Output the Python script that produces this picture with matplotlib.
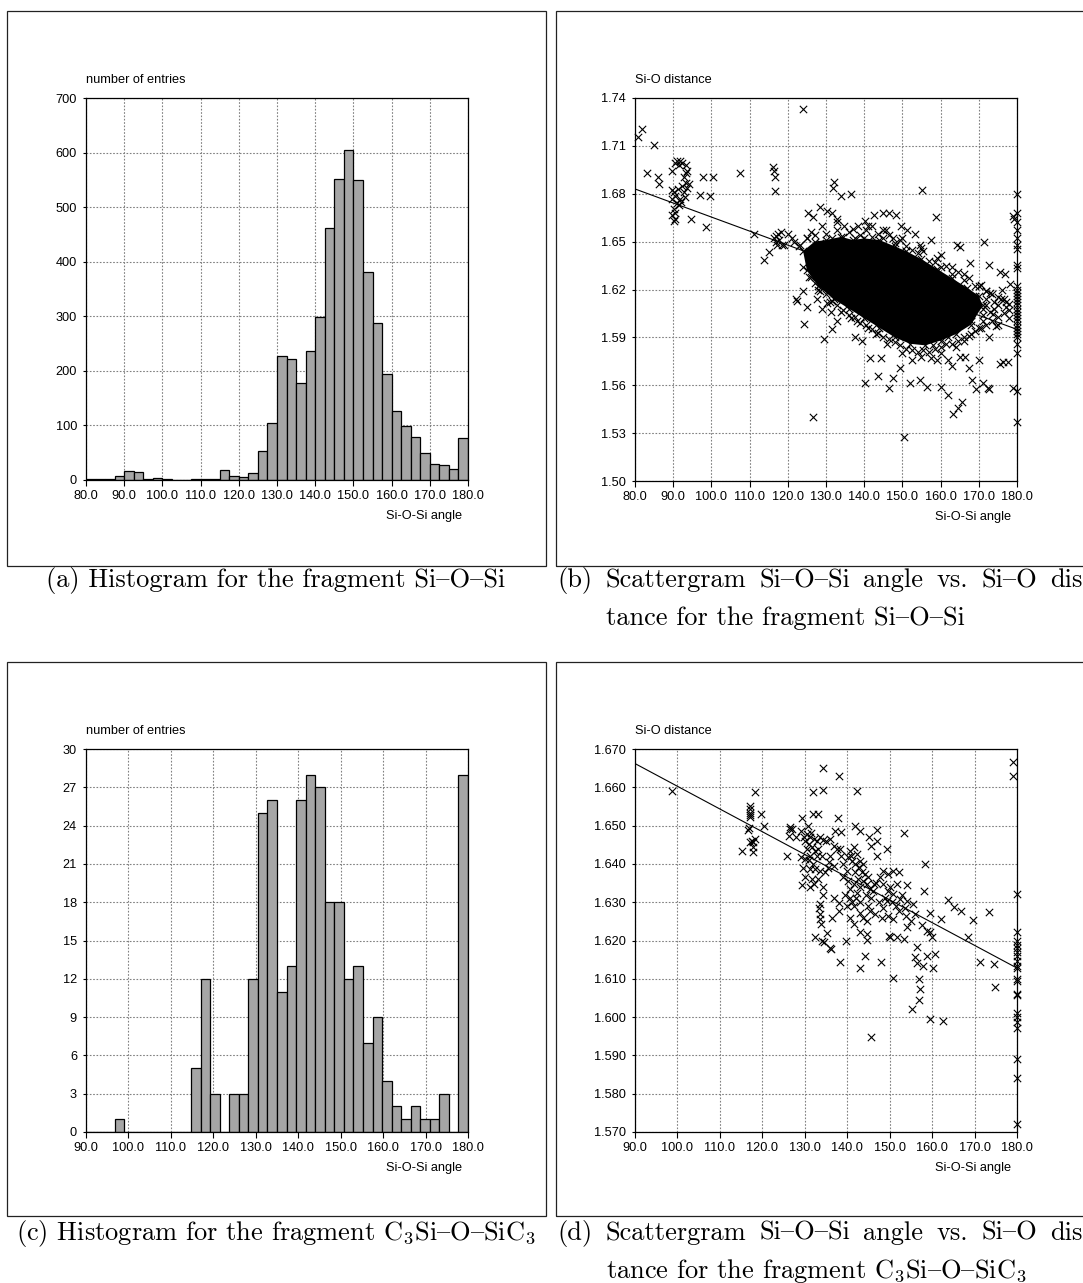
import numpy as np
import matplotlib.pyplot as plt
from matplotlib.patches import Rectangle

plt.rcParams['font.family'] = ['Liberation Sans', 'DejaVu Sans']
plt.rcParams['mathtext.fontset'] = 'cm'

W, H = 1083, 1283

# (a) histogram Si-O-Si, 40 bins of 2.5 deg starting at 80
hist_a_start = 80.0
hist_a_width = 2.5
hist_a_counts = [2, 2, 2, 7, 17, 14, 1, 3, 1, 0,
                 0, 1, 1, 1, 18, 8, 5, 12, 53, 105,
                 227, 222, 177, 236, 299, 462, 552, 605, 550, 381,
                 287, 195, 126, 99, 78, 50, 29, 27, 20, 77]

# (c) histogram C3Si-O-SiC3, 40 bins of 2.25 deg starting at 90
hist_c_start = 90.0
hist_c_width = 2.25
hist_c_counts = [0, 0, 0, 1, 0, 0, 0, 0, 0, 0,
                 0, 5, 12, 3, 0, 3, 3, 12, 25, 26,
                 11, 13, 26, 28, 27, 18, 18, 12, 13, 7,
                 9, 4, 2, 1, 2, 1, 1, 3, 0, 28]

# (b) scattergram Si-O-Si: (angle, distance) of the single crosses
scat_b = [
    (80.9, 1.7155), (81.8, 1.7208), (84.9, 1.7105), (83.2, 1.6927), (86.1, 1.6908), (86.3, 1.6860), (89.7, 1.6944),
    (91.0, 1.7004), (91.9, 1.7004), (92.4, 1.6992), (93.3, 1.6980), (93.7, 1.6944), (93.3, 1.6932), (92.8, 1.6908),
    (91.5, 1.6980), (90.6, 1.6990), (89.7, 1.6824), (90.1, 1.6812), (90.6, 1.6788), (89.7, 1.6764), (91.0, 1.6740),
    (90.1, 1.6704), (89.7, 1.6668), (90.6, 1.6644), (90.1, 1.6632), (91.5, 1.6728), (91.9, 1.6764), (92.8, 1.6812),
    (93.7, 1.6836), (94.2, 1.6860), (93.3, 1.6865), (92.4, 1.6850), (91.2, 1.6830), (92.0, 1.6750), (90.4, 1.6680),
    (93.0, 1.6780), (94.6, 1.6644), (96.9, 1.6795), (97.8, 1.6908), (99.6, 1.6788), (100.3, 1.6908), (98.5, 1.6591),
    (107.6, 1.6927), (111.1, 1.6548), (116.0, 1.6968), (116.4, 1.6944), (116.6, 1.6908), (116.6, 1.6819),
    (113.9, 1.6385), (115.1, 1.6433), (116.8, 1.6536), (117.7, 1.6512), (117.2, 1.6476), (118.1, 1.6560),
    (118.6, 1.6476), (117.0, 1.6500), (116.5, 1.6520), (117.5, 1.6545),
    (124.0, 1.7328), (122.4, 1.6128), (124.9, 1.6092), (124.2, 1.5984), (126.5, 1.5401), (129.4, 1.5888),
    (131.7, 1.5953), (131.2, 1.6056), (132.1, 1.6872), (131.9, 1.6836), (133.9, 1.6783), (136.6, 1.6800),
    (155.2, 1.6824), (158.8, 1.6656), (171.4, 1.6500), (143.7, 1.5660), (146.6, 1.5583), (150.4, 1.5276),
    (163.3, 1.5420), (164.6, 1.5456), (165.5, 1.5492), (168.3, 1.5636), (169.2, 1.5576), (167.4, 1.5708),
    (172.8, 1.5576), (172.3, 1.5583), (175.5, 1.5732), (176.4, 1.5744), (177.7, 1.5744), (178.9, 1.5583),
    (146.6, 1.6680), (151.1, 1.6572), (157.4, 1.6512), (160.1, 1.6416), (164.2, 1.6476), (165.1, 1.6464),
    (167.8, 1.6368), (172.8, 1.6356), (175.5, 1.6308), (176.8, 1.6296), (178.2, 1.6236), (140.3, 1.5612),
    (147.5, 1.5648), (152.0, 1.5612), (154.7, 1.5636), (156.5, 1.5588), (160.1, 1.5588), (161.9, 1.5540),
    (171.0, 1.5612), (136.6, 1.6020), (137.5, 1.5900), (139.3, 1.5876), (141.6, 1.5768), (144.3, 1.5768),
    (149.3, 1.5708), (152.4, 1.5756), (157.4, 1.5768), (161.9, 1.5756), (166.4, 1.5780), (170.1, 1.5756),
    (172.8, 1.5900), (174.6, 1.5972), (173.7, 1.6044), (175.9, 1.6140), (171.9, 1.6188), (122.2, 1.6140),
    (124.0, 1.6188), (127.6, 1.6140), (130.3, 1.6116), (123.1, 1.6476), (121.7, 1.6500), (124.9, 1.6524),
    (125.3, 1.6680), (126.7, 1.6656), (128.5, 1.6716), (130.3, 1.6692), (131.7, 1.6680), (132.9, 1.6644),
    (134.8, 1.6596), (138.4, 1.6596), (140.3, 1.6632), (142.5, 1.6668), (144.8, 1.6680), (148.4, 1.6668),
    (149.7, 1.6596), (153.4, 1.6548), (154.7, 1.6476), (147.5, 1.6524), (142.1, 1.6596), (145.7, 1.6572),
    (158.0, 1.5850), (160.0, 1.5800), (162.0, 1.5900), (164.0, 1.5840), (166.0, 1.5880), (168.0, 1.5920),
    (170.0, 1.5960), (165.0, 1.5780), (163.0, 1.5720), (159.0, 1.5760), (155.0, 1.5780), (150.0, 1.5800),
    (146.0, 1.5860), (143.0, 1.5920), (168.0, 1.6040), (171.0, 1.6000), (174.0, 1.6080), (177.0, 1.6120),
    (169.0, 1.6120), (165.0, 1.6160), (162.0, 1.6200), (166.0, 1.6300), (170.0, 1.6220), (173.0, 1.6180),
    (176.0, 1.6200), (178.0, 1.6020), (175.0, 1.5980), (172.0, 1.6100),
    (126.0, 1.6560), (129.0, 1.6600), (133.0, 1.6620), (137.0, 1.6580), (141.0, 1.6600), (145.0, 1.6570),
    (150.0, 1.6520), (155.0, 1.6460), (159.0, 1.6400), (163.0, 1.6340), (121.0, 1.6520), (119.0, 1.6480),
    (120.0, 1.6550), (126.0, 1.6280), (128.0, 1.6200), (131.0, 1.6120), (134.0, 1.6060), (138.0, 1.6000),
    (141.0, 1.5960), (129.0, 1.6080), (133.0, 1.6000), (179.0, 1.6660), (179.3, 1.6640),
    # crosses crowding the upper rim of the dense cloud
    (123.0, 1.647), (125.0, 1.652), (127.0, 1.654), (128.5, 1.649), (130.0, 1.655), (131.5, 1.652),
    (133.0, 1.657), (134.5, 1.653), (136.0, 1.656), (137.5, 1.652), (139.0, 1.654), (140.5, 1.657),
    (142.0, 1.653), (143.5, 1.655), (145.0, 1.652), (146.5, 1.654), (148.0, 1.649), (149.5, 1.651),
    (151.0, 1.647), (152.5, 1.645), (154.0, 1.643), (155.5, 1.644), (157.0, 1.638), (158.5, 1.637),
    (160.0, 1.634), (161.5, 1.635), (163.0, 1.630), (164.5, 1.631), (166.0, 1.626), (167.5, 1.627),
    (169.0, 1.622), (170.5, 1.623), (172.0, 1.619), (173.5, 1.617), (175.0, 1.615), (176.5, 1.614),
    (178.0, 1.611),
    # crosses crowding the lower rim of the dense cloud
    (124.0, 1.634), (125.5, 1.628), (127.0, 1.624), (128.5, 1.619), (130.0, 1.617), (131.5, 1.613),
    (133.0, 1.610), (134.5, 1.607), (136.0, 1.604), (137.5, 1.603), (139.0, 1.599), (140.5, 1.598),
    (142.0, 1.595), (143.5, 1.593), (145.0, 1.590), (146.5, 1.589), (148.0, 1.587), (149.5, 1.585),
    (151.0, 1.583), (152.5, 1.582), (154.0, 1.581), (155.5, 1.582), (157.0, 1.581), (158.5, 1.583),
    (160.0, 1.584), (161.5, 1.586), (163.0, 1.586), (164.5, 1.588), (166.0, 1.590), (167.5, 1.591),
    (169.0, 1.594), (170.5, 1.596), (172.0, 1.598), (173.5, 1.600), (175.0, 1.603), (176.5, 1.605),
    (178.0, 1.607),
    # tail of the cloud towards 180 deg
    (171.0, 1.608), (174.0, 1.612), (177.0, 1.609), (169.0, 1.616), (172.0, 1.614), (175.0, 1.610),
    (168.0, 1.600), (171.0, 1.604), (166.0, 1.604), (173.0, 1.606),
]
# crosses sitting on the 180 deg line in (b)
edge_b_dist = [1.680, 1.668, 1.662, 1.6572, 1.6524, 1.6476, 1.6452, 1.6356, 1.6332, 1.5564, 1.5372,
               1.622, 1.620, 1.618, 1.616, 1.614, 1.612, 1.610, 1.608, 1.606, 1.604, 1.602,
               1.600, 1.598, 1.596, 1.594, 1.592, 1.590, 1.586, 1.580]
# outline of the solid black core of overlapping crosses in (b)
core_b_angle = [124, 127, 130, 134, 137, 140, 144, 148, 151, 155, 159, 163, 167, 170,
                171, 168, 164, 160, 156, 152, 148, 144, 140, 136, 132, 128, 125]
core_b_dist = [1.644, 1.650, 1.651, 1.653, 1.651, 1.652, 1.651, 1.647, 1.644, 1.639, 1.633, 1.627, 1.621, 1.616,
               1.610, 1.598, 1.592, 1.588, 1.585, 1.586, 1.590, 1.596, 1.602, 1.608, 1.614, 1.622, 1.632]
fit_b_angle = [80.0, 180.0]
fit_b_dist = [1.683, 1.595]

# (d) scattergram C3Si-O-SiC3
scat_d = [
    (98.6, 1.6591), (118.2, 1.6589), (117.1, 1.6552), (117.1, 1.6543), (117.1, 1.6534), (117.2, 1.6528),
    (117.2, 1.6523), (116.8, 1.6495), (116.6, 1.6488), (117.5, 1.6460), (117.9, 1.6456), (117.0, 1.6456),
    (118.3, 1.6464), (117.8, 1.6443), (115.1, 1.6434), (117.9, 1.6430), (119.6, 1.6530), (120.4, 1.6500),
    (126.5, 1.6497), (126.2, 1.6473), (125.8, 1.6421), (126.6, 1.6491),
    (129.4, 1.6520), (129.0, 1.6485), (129.8, 1.6469), (130.5, 1.6478), (131.3, 1.6469), (132.1, 1.6465),
    (130.1, 1.6460), (130.9, 1.6452), (131.7, 1.6443), (132.5, 1.6434), (129.1, 1.6417), (130.1, 1.6413),
    (131.3, 1.6421), (132.9, 1.6421), (132.0, 1.6530), (133.0, 1.6530), (131.9, 1.6589), (134.3, 1.6593),
    (134.3, 1.6650), (138.0, 1.6630), (142.3, 1.6591), (137.9, 1.6520), (134.4, 1.6462), (136.0, 1.6465),
    (137.2, 1.6487), (138.5, 1.6482), (136.9, 1.6447), (138.2, 1.6439), (135.6, 1.6404), (136.8, 1.6395),
    (131.3, 1.6386), (132.5, 1.6386), (133.7, 1.6382), (130.1, 1.6365), (129.4, 1.6345), (131.3, 1.6339),
    (132.1, 1.6347), (134.4, 1.6339), (134.3, 1.6319), (133.7, 1.6295), (133.3, 1.6286), (133.7, 1.6269),
    (133.5, 1.6256), (133.8, 1.6244), (132.3, 1.6210), (134.6, 1.6195), (136.2, 1.6177), (135.9, 1.6180),
    (136.8, 1.6312), (138.0, 1.6299), (138.0, 1.6276), (139.8, 1.6199), (138.4, 1.6145),
    (140.7, 1.6434), (141.5, 1.6443), (142.3, 1.6426), (140.3, 1.6417), (141.1, 1.6408), (141.9, 1.6399),
    (143.1, 1.6408), (143.8, 1.6399), (142.7, 1.6391), (139.9, 1.6382), (139.1, 1.6365), (140.3, 1.6356),
    (141.5, 1.6347), (140.7, 1.6334), (142.3, 1.6325), (143.1, 1.6339), (143.8, 1.6356), (144.6, 1.6347),
    (145.4, 1.6334), (145.0, 1.6365), (146.2, 1.6347), (144.2, 1.6373), (141.9, 1.6500), (143.1, 1.6487),
    (145.2, 1.6469), (147.1, 1.6488), (147.0, 1.6460), (145.6, 1.6447), (149.3, 1.6439), (147.0, 1.6421),
    (153.4, 1.6480), (140.7, 1.6312), (141.5, 1.6291), (143.1, 1.6273), (143.8, 1.6260), (145.4, 1.6276),
    (144.6, 1.6251), (140.7, 1.6260), (141.5, 1.6244), (143.1, 1.6223), (144.6, 1.6216), (144.6, 1.6201),
    (144.2, 1.6160), (143.1, 1.6129), (147.9, 1.6145), (145.6, 1.5947),
    (148.5, 1.6382), (147.7, 1.6365), (149.7, 1.6373), (150.9, 1.6382), (152.1, 1.6378), (148.5, 1.6347),
    (150.1, 1.6339), (151.7, 1.6347), (154.0, 1.6345), (150.9, 1.6321), (149.3, 1.6304), (152.4, 1.6308),
    (154.0, 1.6304), (155.6, 1.6295), (153.6, 1.6286), (148.5, 1.6286), (148.1, 1.6260), (149.7, 1.6264),
    (150.9, 1.6256), (152.1, 1.6277), (153.9, 1.6264), (154.0, 1.6234), (150.1, 1.6208), (149.9, 1.6212),
    (151.7, 1.6208), (153.4, 1.6203), (150.9, 1.6101), (158.3, 1.6399), (158.2, 1.6330), (159.6, 1.6271),
    (162.0, 1.6256), (163.8, 1.6305), (165.1, 1.6288), (166.7, 1.6276), (169.7, 1.6253), (173.4, 1.6275),
    (168.5, 1.6210), (158.7, 1.6225), (159.5, 1.6221), (159.9, 1.6208), (156.4, 1.6182), (156.0, 1.6156),
    (156.4, 1.6140), (157.9, 1.6134), (158.7, 1.6160), (160.6, 1.6164), (160.3, 1.6129), (157.0, 1.6099),
    (157.1, 1.6073), (157.0, 1.6044), (155.2, 1.6021), (159.6, 1.5994), (162.6, 1.5990), (171.4, 1.6145),
    (174.5, 1.6138), (174.7, 1.6079), (179.0, 1.6665), (179.0, 1.6630),
    (130.5, 1.6440), (131.0, 1.6410), (132.0, 1.6400), (133.0, 1.6440), (132.8, 1.6460), (131.5, 1.6480),
    (130.8, 1.6500), (133.5, 1.6470), (129.5, 1.6390), (134.0, 1.6420), (134.8, 1.6380), (135.5, 1.6390),
    (131.8, 1.6360), (133.0, 1.6360), (141.0, 1.6420), (141.8, 1.6380), (142.5, 1.6360), (143.5, 1.6380),
    (144.5, 1.6320), (145.5, 1.6310), (146.0, 1.6330), (146.8, 1.6350), (142.0, 1.6310), (141.2, 1.6300),
    (139.5, 1.6320), (140.0, 1.6290), (143.0, 1.6300), (145.0, 1.6290), (146.5, 1.6270), (147.5, 1.6300),
    (148.8, 1.6310), (149.5, 1.6330), (150.5, 1.6300), (151.5, 1.6290), (152.8, 1.6320), (139.0, 1.6400),
    (138.5, 1.6420), (137.5, 1.6440), (136.0, 1.6420), (135.0, 1.6460), (155.0, 1.6250), (156.0, 1.6270),
    (157.5, 1.6240), (127.0, 1.6490), (128.0, 1.6470), (136.5, 1.6260), (135.2, 1.6220), (134.0, 1.6200),
]
edge_d_dist = [1.6321, 1.6221, 1.6199, 1.6189, 1.6180, 1.6171, 1.6160, 1.6147, 1.6134, 1.6129, 1.6099,
               1.6095, 1.6061, 1.6058, 1.6012, 1.6001, 1.5986, 1.5971, 1.5890, 1.5840, 1.5720]
fit_d_angle = [90.0, 180.0]
fit_d_dist = [1.6662, 1.6128]

SERIF = ['cmr10', 'DejaVu Serif']
CAP = 19
TICK = 9.2
# in the TeX encoded cmr10 font the en dash sits on the brace slot
ND = '{'


def px_axes(fig, left, top, right, bottom):
    return fig.add_axes([left / W, 1 - bottom / H, (right - left) / W, (bottom - top) / H])


def style(ax, xlim, ylim, xticks, yticks, yfmt, ylabel):
    ax.set_xlim(*xlim)
    ax.set_ylim(*ylim)
    ax.set_xticks(xticks)
    ax.set_xticklabels(['%.1f' % v for v in xticks])
    ax.set_yticks(yticks)
    ax.set_yticklabels([yfmt % v for v in yticks])
    ax.grid(True, color='#808080', linestyle=(0, (1.5, 1.5)), linewidth=0.8)
    ax.set_axisbelow(True)
    ax.tick_params(axis='x', length=4, width=0.8, pad=3.5, labelsize=TICK)
    ax.tick_params(axis='y', length=2.5, width=0.8, pad=4, labelsize=TICK)
    for s in ax.spines.values():
        s.set_linewidth(0.9)
    ax.text(0, 1 + 18 / 382, ylabel, transform=ax.transAxes, ha='left', va='center', fontsize=TICK)
    ax.text(1 - 6 / 382, -36 / 382, 'Si-O-Si angle', transform=ax.transAxes,
            ha='right', va='center', fontsize=TICK)


def frame(fig, left, top, right, bottom):
    fig.add_artist(Rectangle((left / W, 1 - bottom / H), (right - left) / W, (bottom - top) / H,
                             transform=fig.transFigure, fill=False, ec='#222222', lw=0.9))


def caption(fig, x, y, s, ha='left'):
    return fig.text(x / W, 1 - y / H, s, fontsize=CAP, family=SERIF, ha=ha, va='baseline')


def justified(fig, words, x0, x_last, y):
    # spread the words so the first starts at x0 and the last at x_last
    texts = [caption(fig, x0, y, w) for w in words]
    r = fig.canvas.get_renderer()
    widths = [t.get_window_extent(r).width for t in texts]
    gap = (x_last - x0 - sum(widths[:-1])) / (len(words) - 1)
    x = x0
    for t, w in zip(texts, widths):
        t.set_x(x / W)
        x += w + gap


def crosses(ax, ang, dist):
    ax.scatter(ang, dist, marker='x', s=28, c='black', linewidths=0.8, zorder=3, clip_on=False)


fig = plt.figure(figsize=(W / 100, H / 100), dpi=100)

# frames round the four plots
frame(fig, 7, 11, 546, 566)
frame(fig, 556, 11, 1100, 566)
frame(fig, 7, 662, 546, 1216)
frame(fig, 556, 662, 1100, 1216)

# (a)
ax = px_axes(fig, 86, 98, 468, 480)
left_a = hist_a_start + hist_a_width * np.arange(len(hist_a_counts))
ax.bar(left_a, hist_a_counts, width=hist_a_width, align='edge', color='#a6a6a6',
       edgecolor='black', linewidth=0.9, zorder=2)
style(ax, (80, 180), (0, 700), np.arange(80, 181, 10), np.arange(0, 701, 100), '%d', 'number of entries')

# (b)
ax = px_axes(fig, 635, 98, 1017, 481)
ax.fill(core_b_angle, core_b_dist, color='black', lw=0, zorder=2)
crosses(ax, core_b_angle, core_b_dist)
ang, dist = zip(*scat_b)
crosses(ax, ang, dist)
crosses(ax, [180.0] * len(edge_b_dist), edge_b_dist)
ax.plot(fit_b_angle, fit_b_dist, color='black', lw=0.8, zorder=4)
style(ax, (80, 180), (1.50, 1.74), np.arange(80, 181, 10), np.arange(1.50, 1.741, 0.03), '%.2f', 'Si-O distance')

# (c)
ax = px_axes(fig, 86, 749, 468, 1132)
left_c = hist_c_start + hist_c_width * np.arange(len(hist_c_counts))
ax.bar(left_c, hist_c_counts, width=hist_c_width, align='edge', color='#a6a6a6',
       edgecolor='black', linewidth=0.9, zorder=2)
style(ax, (90, 180), (0, 30), np.arange(90, 181, 10), np.arange(0, 31, 3), '%d', 'number of entries')

# (d)
ax = px_axes(fig, 635, 749, 1017, 1132)
ang, dist = zip(*scat_d)
crosses(ax, ang, dist)
crosses(ax, [180.0] * len(edge_d_dist), edge_d_dist)
ax.plot(fit_d_angle, fit_d_dist, color='black', lw=0.8, zorder=4)
style(ax, (90, 180), (1.570, 1.670), np.arange(90, 181, 10), np.arange(1.570, 1.6701, 0.010), '%.3f', 'Si-O distance')

# captions
siosi = 'Si' + ND + 'O' + ND + 'Si'
c3 = 'C$_3$Si' + ND + 'O' + ND + 'SiC$_3$'
caption(fig, 276, 587, '(a) Histogram for the fragment ' + siosi, ha='center')
caption(fig, 276, 1240, '(c) Histogram for the fragment ' + c3, ha='center')
for y, tag, rest in [(587, '(b)', 'tance for the fragment ' + siosi),
                     (1240, '(d)', 'tance for the fragment ' + c3)]:
    justified(fig, [tag, 'Scattergram', siosi, 'angle', 'vs.', 'Si' + ND + 'O', 'dis'], 557, 1050, y)
    caption(fig, 606, y + 38, rest)

fig.savefig('out.png', dpi=100)
